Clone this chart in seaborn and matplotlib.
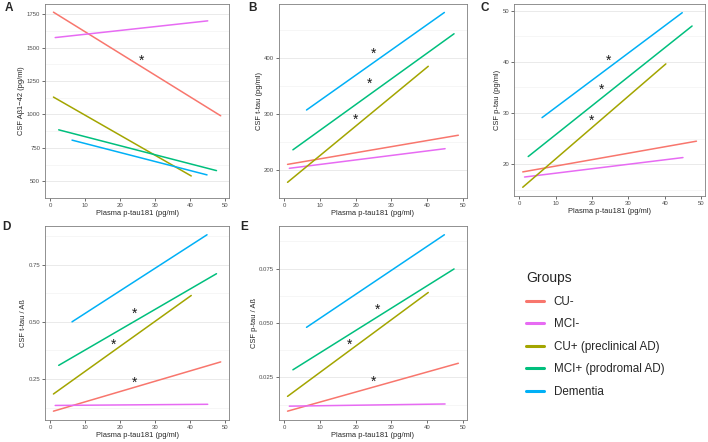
import pandas as pd
import numpy as np
import matplotlib.pyplot as plt
import seaborn as sns

groups = ['CU-', 'MCI-', 'CU+ (preclinical AD)', 'MCI+ (prodromal AD)', 'Dementia']
colors = ['#F8766D', '#E76BF3', '#A3A500', '#00BF7D', '#00B0F6']

# fitted lines: plasma p-tau181 range per group (start, end)
x_start = [1.0, 1.5, 1.0, 2.5, 6.3]
x_end = [48.7, 45.0, 40.3, 47.5, 44.8]

# CSF values at line start / end, per panel
abeta_start = [1765, 1575, 1130, 885, 808]
abeta_end = [990, 1700, 540, 580, 548]
ttau_start = [210, 203, 178, 236, 307]
ttau_end = [262, 238, 385, 443, 481]
ptau_start = [18.5, 17.5, 15.5, 21.5, 29.1]
ptau_end = [24.5, 21.3, 39.6, 47.0, 49.6]
ttau_ab_start = [0.11, 0.135, 0.185, 0.31, 0.50]
ttau_ab_end = [0.325, 0.140, 0.615, 0.71, 0.88]
ptau_ab_start = [0.0095, 0.0118, 0.0163, 0.0285, 0.048]
ptau_ab_end = [0.0315, 0.0128, 0.064, 0.0748, 0.0905]

# significance stars (x, y)
stars_a = [(26, 1400)]
stars_b = [(25, 408), (24, 353), (20, 290)]
stars_c = [(24.5, 40.3), (22.5, 34.5), (19.8, 28.5)]
stars_d = [(24, 0.535), (18, 0.40), (24, 0.235)]
stars_e = [(26, 0.056), (18.3, 0.040), (25, 0.023)]

sns.set_style('white')
plt.rcParams['font.family'] = ['Liberation Sans', 'DejaVu Sans']


def make_df(y0, y1):
    rows = []
    for g, xa, xb, ya, yb in zip(groups, x_start, x_end, y0, y1):
        rows.append({'group': g, 'x': xa, 'y': ya})
        rows.append({'group': g, 'x': xb, 'y': yb})
    return pd.DataFrame(rows)


fig = plt.figure(figsize=(7.08, 4.42), dpi=100)

# letter, axes rect, letter pos, data, stars, ylabel, yticks, tick format
panels = [
    ('A', [0.0636, 0.552, 0.260, 0.439], (0.006, 0.982), abeta_start, abeta_end, stars_a,
     'CSF A\u03b21\u221242 (pg/ml)', [500, 750, 1000, 1250, 1500, 1750], lambda v: f'{v:.0f}'),
    ('B', [0.394, 0.552, 0.2655, 0.439], (0.350, 0.982), ttau_start, ttau_end, stars_b,
     'CSF t-tau (pg/ml)', [200, 300, 400], lambda v: f'{v:.0f}'),
    ('C', [0.726, 0.5566, 0.270, 0.4344], (0.679, 0.982), ptau_start, ptau_end, stars_c,
     'CSF p-tau (pg/ml)', [20, 30, 40, 50], lambda v: f'{v:.0f}'),
    ('D', [0.0636, 0.0498, 0.260, 0.439], (0.003, 0.486), ttau_ab_start, ttau_ab_end, stars_d,
     'CSF t-tau / A\u00df', [0.25, 0.50, 0.75], lambda v: f'{v:.2f}'),
    ('E', [0.394, 0.0498, 0.2655, 0.439], (0.339, 0.486), ptau_ab_start, ptau_ab_end, stars_e,
     'CSF p-tau / A\u00df', [0.025, 0.050, 0.075], lambda v: f'{v:.3f}'),
]

handles = labels = None
for letter, rect, lpos, y0, y1, stars, ylabel, yticks, fmt in panels:
    ax = fig.add_axes(rect)
    df = make_df(y0, y1)
    sns.lineplot(data=df, x='x', y='y', hue='group', hue_order=groups,
                 palette=colors, linewidth=1.1, ax=ax)
    if handles is None:
        handles, labels = ax.get_legend_handles_labels()
    ax.get_legend().remove()
    for sx, sy in stars:
        ax.text(sx, sy, '*', fontsize=10, ha='center', va='center', color='#1a1a1a')
    ax.set_xticks([0, 10, 20, 30, 40, 50])
    ax.set_yticks(yticks)
    ax.set_yticklabels([fmt(v) for v in yticks])
    ax.set_xlim(-1.4, 51.1)
    lo, hi = min(min(y0), min(y1)), max(max(y0), max(y1))
    pad = (hi - lo) * 0.05
    ax.set_ylim(lo - pad, hi + pad)
    step = yticks[1] - yticks[0]
    minor = np.arange(yticks[0] - step / 2, hi + pad, step)
    ax.set_yticks(minor, minor=True)
    ax.grid(axis='y', which='major', color='#e6e6e6', linewidth=0.6)
    ax.grid(axis='y', which='minor', color='#f0f0f0', linewidth=0.4)
    ax.set_axisbelow(True)
    ax.tick_params(axis='both', which='major', labelsize=4.3, labelcolor='#4d4d4d',
                   length=2.2, width=0.5, color='#333333', pad=1.2, left=True, bottom=True)
    ax.tick_params(axis='y', which='minor', length=0)
    for sp in ax.spines.values():
        sp.set_color('#7f7f7f')
        sp.set_linewidth(0.6)
    ax.set_xlabel('Plasma p-tau181 (pg/ml)', fontsize=5.4, labelpad=1.5)
    ax.set_ylabel(ylabel, fontsize=5.4, labelpad=1)
    fig.text(lpos[0], lpos[1], letter, fontsize=8.5, fontweight='bold',
             ha='left', va='center')

leg = fig.legend(handles, labels, title='Groups', loc='upper left',
                 bbox_to_anchor=(0.717, 0.428), frameon=False, fontsize=8.4,
                 title_fontsize=10, handlelength=1.55, handletextpad=0.8,
                 labelspacing=0.9, borderpad=1.1)
leg._legend_box.align = 'left'
for line in leg.get_lines():
    line.set_linewidth(2.2)

fig.savefig('out.png', dpi=100)
